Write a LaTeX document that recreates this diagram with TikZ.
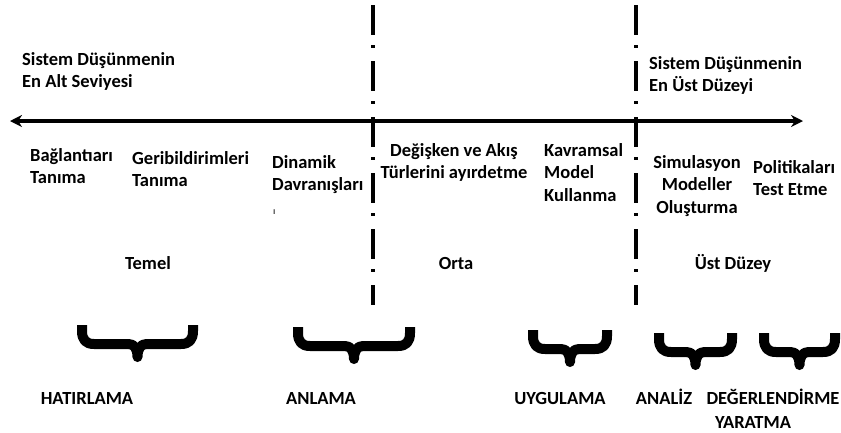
\documentclass[tikz,border=0pt]{standalone}
\usepackage{fontspec}
\setmainfont{Carlito}
\usetikzlibrary{arrows.meta}

\tikzset{
  lbl/.style={font=\fontsize{18.5}{22.5}\selectfont\bfseries, inner sep=0pt, align=left, anchor=base west},
  lblc/.style={lbl, align=center, anchor=base},
  axis/.style={line width=3.2pt, {Stealth[length=12pt,width=12pt]}-{Stealth[length=12pt,width=12pt]}},
  divider/.style={line width=3.5pt, dash pattern=on 30pt off 10pt on 3pt off 13pt},
  ubrace/.style={line width=10pt, line join=round}
}

\begin{document}
\begin{tikzpicture}[x=1pt,y=-1pt]
\useasboundingbox (0,0) rectangle (841,432);

% axis and the two dividers
\coordinate (axL) at (10,121);
\coordinate (axR) at (803,121);
\draw [axis] (axL) -- (axR);
\coordinate (d1top) at (373,5);
\coordinate (d1bot) at (373,305);
\coordinate (d2top) at (636,5);
\coordinate (d2bot) at (636,305);
\draw [divider] (d1top) -- (d1bot);
\draw [divider] (d2top) -- (d2bot);

% upper texts (base = last line)
\node [lbl] (low) at (22,87.5) {Sistem Düşünmenin\\En Alt Seviyesi};
\node [lbl] (high) at (649,91.5) {Sistem Düşünmenin\\En Üst Düzeyi};

\node [lbl] (bag) at (30,183.5) {Bağlantıarı\\Tanıma};
\node [lbl] (geri) at (132,186.5) {Geribildirimleri\\Tanıma};
\node [lbl] (dinamik) at (272,190.5) {Dinamik\\Davranışları};
\node [lbl, font=\fontsize{10}{10}\selectfont] (tick) at (273,214) {ı};
\node [lblc] (degisken) at (454,178.5) {Değişken ve Akış\\Türlerini ayırdetme};
\node [lbl] (kavram) at (544,201) {Kavramsal\\Model\\Kullanma};
\node [lblc] (simul) at (697,213) {Simulasyon\\Modeller\\Oluşturma};
\node [lbl] (politika) at (753,195.5) {Politikaları\\Test Etme};

% levels
\node [lblc] (temel) at (148,269) {Temel};
\node [lblc] (orta) at (456,269) {Orta};
\node [lblc] (ust) at (733,269) {Üst Düzey};

% braces
\foreach \l/\r/\t in {77/198/325, 293/415/327, 528/612/330, 654/737/333, 759/840/333} {
  \pgfmathsetmacro\a{\l+5}
  \pgfmathsetmacro\b{\r-5}
  \pgfmathsetmacro\m{(\l+\r)/2}
  \draw [ubrace] (\a,\t) -- (\a,\t+6) .. controls (\a,\t+15) and (\a+4,\t+19) .. (\a+12,\t+19)
    -- (\m-9,\t+19) .. controls (\m-3,\t+19) and (\m,\t+24) .. (\m,\t+32)
    .. controls (\m,\t+24) and (\m+3,\t+19) .. (\m+9,\t+19)
    -- (\b-12,\t+19) .. controls (\b-4,\t+19) and (\b,\t+15) .. (\b,\t+6) -- (\b,\t);
}

% bloom levels
\node [lblc] (hatir) at (87,404) {HATIRLAMA};
\node [lblc] (anlama) at (321,404) {ANLAMA};
\node [lblc] (uygu) at (560,404) {UYGULAMA};
\node [lblc] (analiz) at (664,404) {ANALİZ};
\node [lblc] (deger) at (773,404) {DEĞERLENDİRME};
\node [lblc] (yarat) at (753,428) {YARATMA};
\end{tikzpicture}
\end{document}
